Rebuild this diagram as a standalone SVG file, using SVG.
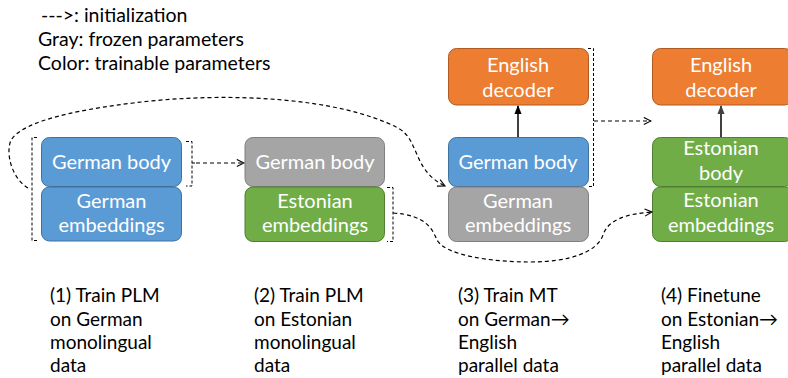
<svg xmlns="http://www.w3.org/2000/svg" width="788" height="378" viewBox="0 0 788 378">
<defs>
<marker id="open" viewBox="0 0 10 10" refX="9" refY="5" markerWidth="9" markerHeight="9" markerUnits="userSpaceOnUse" orient="auto">
<path d="M1,1 L9,5 L1,9" fill="none" stroke="#000" stroke-width="1.2"/>
</marker>
<marker id="solidk" viewBox="0 0 10 10" refX="9" refY="5" markerWidth="9" markerHeight="9" markerUnits="userSpaceOnUse" orient="auto">
<path d="M0,1 L10,5 L0,9 Z" fill="#000"/>
</marker>
<marker id="solidg" viewBox="0 0 10 10" refX="9" refY="5" markerWidth="9" markerHeight="9" markerUnits="userSpaceOnUse" orient="auto">
<path d="M0,1 L10,5 L0,9 Z" fill="#404040"/>
</marker>
</defs>
<style>
text{font-family:Lato,"DejaVu Sans",sans-serif}
.legend{font-size:19.5px;fill:#000}
.lbl{font-size:19px;fill:#000}
.bt{font-size:20px;fill:#fff;text-anchor:middle}
.blue{fill:#5B9BD5;stroke:#41719C;stroke-width:1}
.gray{fill:#A5A5A5;stroke:#7F7F7F;stroke-width:1}
.green{fill:#70AD47;stroke:#507E32;stroke-width:1}
.orange{fill:#ED7D31;stroke:#AE5A21;stroke-width:1}
.dash{fill:none;stroke:#000;stroke-width:1.2;stroke-dasharray:4 3}
.brk{fill:none;stroke:#000;stroke-width:1;stroke-dasharray:3 2}
</style>

<g id="legend">
<text class="legend" x="41" y="22">---&gt;: initialization</text>
<text class="legend" x="38" y="46">Gray: frozen parameters</text>
<text class="legend" x="38" y="70">Color: trainable parameters</text>
</g>

<g id="c1-body"><rect class="blue" x="41.5" y="137.5" width="140" height="49" rx="8"/><text class="bt" x="111.5" y="169">German body</text></g>
<g id="c1-emb"><rect class="blue" x="41.5" y="187" width="140" height="54" rx="8"/><text class="bt" x="111.5" y="208">German</text><text class="bt" x="111.5" y="232">embeddings</text></g>

<g id="c2-body"><rect class="gray" x="245" y="137.5" width="139.5" height="49" rx="8"/><text class="bt" x="315" y="169">German body</text></g>
<g id="c2-emb"><rect class="green" x="245" y="187" width="139.5" height="54.5" rx="8"/><text class="bt" x="315" y="208">Estonian</text><text class="bt" x="315" y="232">embeddings</text></g>

<g id="c3-dec"><rect class="orange" x="448.5" y="48.5" width="140" height="56.5" rx="8"/><text class="bt" x="518" y="72">English</text><text class="bt" x="518" y="97">decoder</text></g>
<g id="c3-body"><rect class="blue" x="448.5" y="137.5" width="140" height="49" rx="8"/><text class="bt" x="518" y="169">German body</text></g>
<g id="c3-emb"><rect class="gray" x="448.5" y="187" width="140" height="54.5" rx="8"/><text class="bt" x="518" y="208">German</text><text class="bt" x="518" y="232">embeddings</text></g>

<g id="c4-dec"><rect class="orange" x="652.5" y="48.5" width="140" height="56.5" rx="8"/><text class="bt" x="721" y="72">English</text><text class="bt" x="721" y="97">decoder</text></g>
<g id="c4-body"><rect class="green" x="652.5" y="137.5" width="140" height="49" rx="8"/><text class="bt" x="721" y="155">Estonian</text><text class="bt" x="721" y="180">body</text></g>
<g id="c4-emb"><rect class="green" x="652.5" y="187" width="140" height="54.5" rx="8"/><text class="bt" x="721" y="207">Estonian</text><text class="bt" x="721" y="232">embeddings</text></g>

<g id="connectors">
<path class="brk" d="M37 137.5 H32 V240.5 H37"/>
<path class="brk" d="M186 141.5 H192 V186 H186 M192 163 H196"/>
<path class="brk" d="M387 187.5 H393 V241.5 H387"/>
<path class="brk" d="M588 48.5 H593.5 V186.5 H588"/>
<path class="dash" d="M196 163 H244" marker-end="url(#open)"/>
<path class="dash" d="M594 121 H651" marker-end="url(#open)"/>
<path class="dash" d="M28 188 C14 180, 6 158, 10 143 C14 128, 50 113, 133 103 C230 91, 340 98, 398 128 C420 140, 412 170, 445 186" marker-end="url(#open)"/>
<path class="dash" d="M393 213 C425 215, 432 228, 437 240 C445 255, 490 262, 530 262 C570 262, 597 252, 603 235 C608 220, 625 214, 652 212" marker-end="url(#open)"/>
<path d="M518 137 V106" stroke="#000" stroke-width="1.5" fill="none" marker-end="url(#solidk)"/>
<path d="M721 137 V106" stroke="#404040" stroke-width="2" fill="none" marker-end="url(#solidg)"/>
</g>

<g id="captions">
<text class="lbl" x="50" y="302">(1) Train PLM</text>
<text class="lbl" x="50" y="325.5">on German</text>
<text class="lbl" x="50" y="349">monolingual</text>
<text class="lbl" x="50" y="372">data</text>
<text class="lbl" x="254" y="302">(2) Train PLM</text>
<text class="lbl" x="254" y="325.5">on Estonian</text>
<text class="lbl" x="254" y="349">monolingual</text>
<text class="lbl" x="254" y="372">data</text>
<text class="lbl" x="458" y="302">(3) Train MT</text>
<text class="lbl" x="458" y="325.5">on German→</text>
<text class="lbl" x="458" y="349">English</text>
<text class="lbl" x="458" y="372">parallel data</text>
<text class="lbl" x="661" y="302">(4) Finetune</text>
<text class="lbl" x="661" y="325.5">on Estonian→</text>
<text class="lbl" x="661" y="349">English</text>
<text class="lbl" x="661" y="372">parallel data</text>
</g>
</svg>
